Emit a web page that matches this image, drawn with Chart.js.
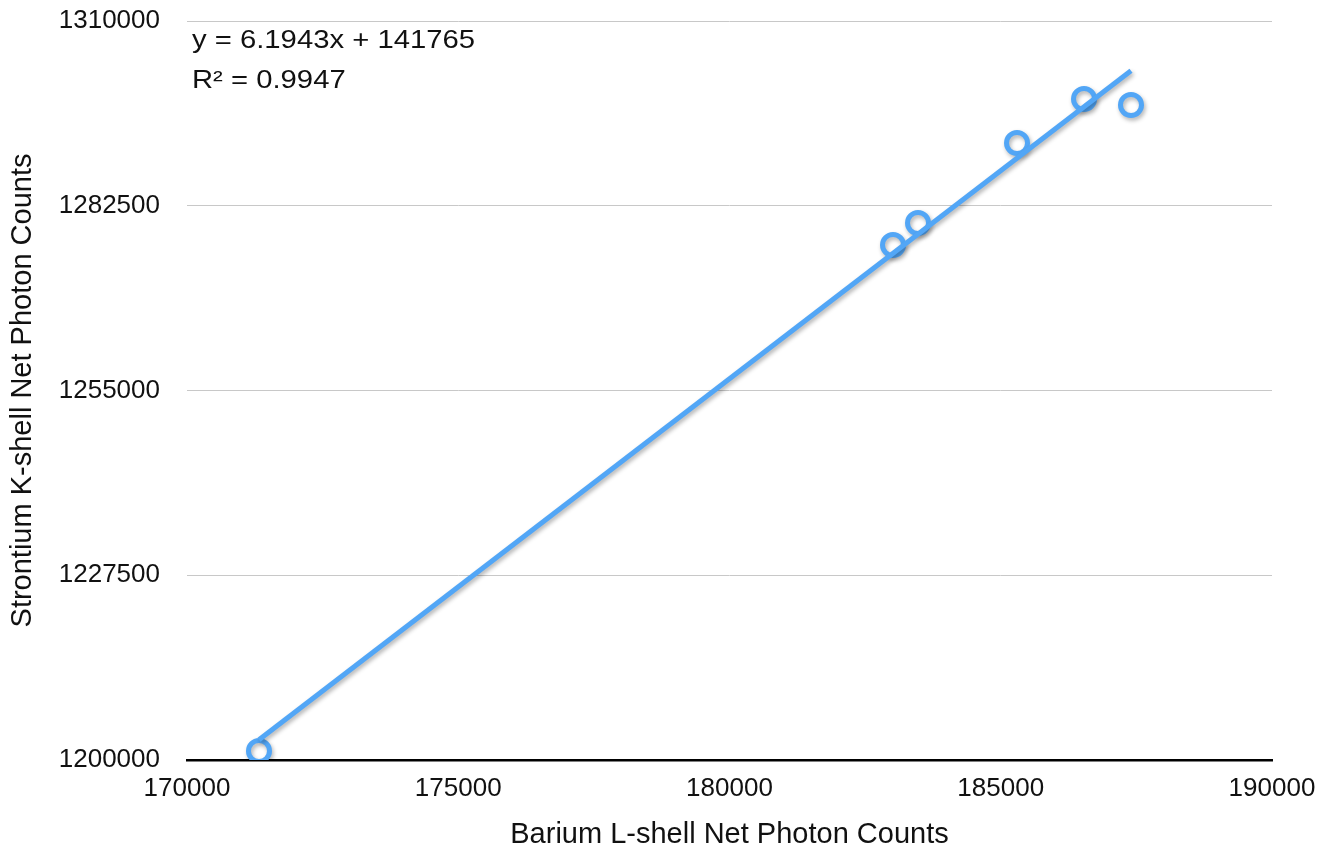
<!DOCTYPE html>
<html>
<head>
<meta charset="utf-8">
<title>Strontium vs Barium photon counts</title>
<script src="https://cdn.jsdelivr.net/npm/chart.js@4.4.1/dist/chart.umd.min.js"></script>
<style>
  html, body { margin: 0; padding: 0; background: #ffffff; }
  #wrap { width: 1330px; height: 852px; position: relative; }
</style>
</head>
<body>
<div id="wrap"><canvas id="chart"></canvas></div>
<script>
// Measured samples: Barium L-shell counts (x) against Strontium K-shell counts (y)
const bariumCounts    = [171327, 183014, 183475, 185300, 186535, 187401];
const strontiumCounts = [1201340, 1276660, 1279935, 1291843, 1298393, 1297500];

// Linear fit reported on the chart
const fitSlope = 6.1943;
const fitIntercept = 141765;
const fitR2 = 0.9947;

// Axis ranges and tick steps
const xTicks = [170000, 175000, 180000, 185000, 190000];
const yTicks = [1200000, 1227500, 1255000, 1282500, 1310000];

const BLUE = '#52a6f6';
const FONT = '"Liberation Sans", Arial, Helvetica, sans-serif';

const points = bariumCounts.map((x, i) => ({ x, y: strontiumCounts[i] }));
const xMin = Math.min(...bariumCounts);
const xMax = Math.max(...bariumCounts);
const fitLine = [xMin, xMax].map(x => ({ x, y: fitSlope * x + fitIntercept }));

// Soft drop shadow under the series marks
const shadowPlugin = {
  id: 'markShadow',
  beforeDatasetDraw(chart) {
    const ctx = chart.ctx;
    ctx.save();
    ctx.shadowColor = 'rgba(0,0,0,0.30)';
    ctx.shadowBlur = 4;
    ctx.shadowOffsetX = 1.5;
    ctx.shadowOffsetY = 2.5;
  },
  afterDatasetDraw(chart) {
    chart.ctx.restore();
  }
};

// Regression equation and R² in the top-left corner of the plot
const equationPlugin = {
  id: 'fitEquation',
  afterDatasetsDraw(chart) {
    const ctx = chart.ctx;
    const area = chart.chartArea;
    ctx.save();
    ctx.fillStyle = '#111111';
    ctx.font = '25px ' + FONT;
    ctx.textBaseline = 'alphabetic';
    ctx.textAlign = 'left';
    const sx = 1.17;
    ctx.translate(area.left + 5, area.top);
    ctx.scale(sx, 1);
    ctx.fillText('y = ' + fitSlope + 'x + ' + fitIntercept, 0, 27);
    ctx.fillText('R\u00B2 = ' + fitR2, 0, 67);
    ctx.restore();
  }
};

new Chart(document.getElementById('chart'), {
  type: 'scatter',
  data: {
    datasets: [
      {
        label: 'Linear fit',
        type: 'line',
        data: fitLine,
        borderColor: BLUE,
        borderWidth: 5,
        pointRadius: 0,
        fill: false,
        tension: 0,
        order: 0
      },
      {
        label: 'Samples',
        data: points,
        borderColor: BLUE,
        backgroundColor: 'rgba(255,255,255,0)',
        pointRadius: 10.5,
        pointBorderWidth: 5,
        pointHoverRadius: 10.5,
        order: 1
      }
    ]
  },
  options: {
    responsive: true,
    maintainAspectRatio: false,
    animation: false,
    layout: { padding: { top: 21, right: 58, left: 0, bottom: 0 } },
    plugins: {
      legend: { display: false },
      tooltip: { enabled: false }
    },
    scales: {
      x: {
        type: 'linear',
        min: xTicks[0],
        max: xTicks[xTicks.length - 1],
        afterBuildTicks(scale) { scale.ticks = xTicks.map(v => ({ value: v })); },
        afterFit(scale) {
          scale.height = 92;
          scale.paddingLeft = 0;
          scale.paddingRight = 0;
        },
        grid: { display: false, drawTicks: false },
        border: { display: true, color: '#000000', width: 2.5 },
        ticks: {
          padding: 13,
          color: '#111111',
          font: { family: FONT, size: 26 },
          callback: v => String(v)
        },
        title: {
          display: true,
          text: 'Barium L-shell Net Photon Counts',
          color: '#111111',
          font: { family: FONT, size: 29 },
          padding: { top: 0, bottom: 0 }
        }
      },
      y: {
        type: 'linear',
        min: yTicks[0],
        max: yTicks[yTicks.length - 1],
        afterBuildTicks(scale) { scale.ticks = yTicks.map(v => ({ value: v })); },
        afterFit(scale) {
          scale.width = 187;
          scale.paddingTop = 0;
          scale.paddingBottom = 0;
        },
        grid: { color: '#c8c8c8', lineWidth: 1, drawTicks: false },
        border: { display: false },
        ticks: {
          padding: 27,
          color: '#111111',
          font: { family: FONT, size: 26 },
          callback: v => String(v)
        },
        title: {
          display: true,
          text: 'Strontium K-shell Net Photon Counts',
          color: '#111111',
          font: { family: FONT, size: 29 },
          padding: { top: 6, bottom: 0 }
        }
      }
    }
  },
  plugins: [shadowPlugin, equationPlugin]
});
</script>
</body>
</html>
